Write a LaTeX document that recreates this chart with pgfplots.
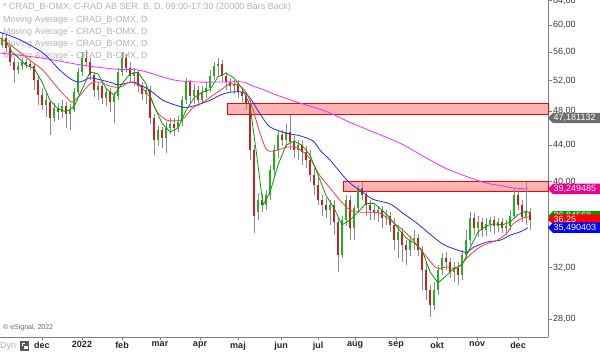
\documentclass[border=0pt]{standalone}
\usepackage{fontspec}
\setmainfont{Liberation Sans}
\usepackage{pgfplots}
\pgfplotsset{compat=1.18}
\usepackage{pgfplotstable}
\definecolor{cgreen}{RGB}{34,177,34}
\definecolor{cred}{RGB}{196,36,36}
\definecolor{wick}{RGB}{140,140,140}
\definecolor{magg}{RGB}{255,40,255}
\definecolor{mablue}{RGB}{40,40,255}
\definecolor{mared}{RGB}{255,60,60}
\definecolor{magreen}{RGB}{0,160,0}
\definecolor{zonefill}{RGB}{255,180,180}
\definecolor{legtext}{RGB}{180,180,180}
\definecolor{ticktext}{RGB}{60,60,60}
\definecolor{axgray}{RGB}{128,128,128}

\pgfplotstableread{
x o h l c
2 57.05 58.85 56.6 58.1
6 58.1 58.55 56.0 56.6
10 56.6 57.05 53.95 54.5
14 54.5 55.1 51.65 53.4
18 53.4 54.5 52.9 53.95
22 53.95 55.1 53.4 54.5
26 54.5 54.95 53.7 54.25
30 54.25 54.8 53.4 53.95
34 53.95 54.4 50.7 52.1
38 52.1 52.6 48.8 50.05
42 50.05 50.95 48.2 48.8
46 48.8 50.45 47.3 49.4
50 49.15 49.4 45.15 47.2
54 47.2 49.05 46.65 48.45
58 48.45 49.05 46.9 47.95
62 47.95 49.4 47.2 48.7
66 48.7 49.15 45.95 47.7
70 47.7 48.95 45.7 48.2
74 48.2 50.95 47.95 50.45
78 50.45 53.7 50.05 53.15
82 53.15 56.0 52.6 55.1
86 55.1 56.3 53.95 54.5
90 54.5 55.1 52.1 52.75
94 52.75 53.15 49.8 50.7
98 50.7 51.8 49.4 51.25
102 51.25 51.55 48.95 49.7
106 49.7 50.95 48.7 50.45
110 50.45 50.95 47.95 49.15
114 49.15 50.45 46.55 49.95
118 49.95 53.7 49.4 53.15
122 53.15 56.0 52.6 55.1
126 55.1 55.7 53.15 53.7
130 53.7 54.5 51.8 52.6
134 52.6 53.7 51.25 53.15
138 53.15 53.4 50.45 51.25
142 51.25 51.8 49.4 50.2
146 50.2 51.55 48.95 50.7
150 50.7 51.25 46.45 47.2
154 47.2 47.7 42.85 44.55
158 44.55 46.2 43.85 45.7
162 45.7 46.1 43.65 44.8
166 44.8 46.65 43.1 45.95
170 45.95 47.2 45.25 46.45
174 46.45 47.2 45.05 45.95
178 45.95 47.45 45.5 46.65
182 46.65 49.95 46.2 49.4
186 49.4 52.35 48.95 51.8
190 51.8 52.1 48.95 49.95
194 49.95 51.55 48.95 50.7
198 50.7 51.25 48.7 49.4
202 49.4 51.25 48.95 50.45
206 50.45 51.8 49.7 50.95
210 50.95 53.4 50.45 52.6
214 52.6 54.5 52.1 53.95
218 53.95 55.1 52.6 54.25
222 54.25 54.8 51.8 52.6
226 52.6 53.15 50.7 51.8
230 51.8 52.35 50.45 51.25
234 51.25 52.1 50.2 51.55
238 51.55 52.1 49.7 50.45
242 50.45 50.95 49.15 49.95
246 49.95 50.45 48.2 48.95
250 48.95 49.4 42.3 43.4
254 43.4 43.95 35.0 36.6
258 36.95 38.8 36.2 38.1
262 38.1 38.7 36.95 37.65
266 37.65 39.1 37.15 38.6
270 38.6 41.75 38.1 41.2
274 41.2 43.95 40.6 43.4
278 43.4 45.7 42.5 45.15
282 45.15 45.7 43.85 44.55
286 44.55 46.45 43.65 45.5
290 45.5 47.55 43.4 44.3
294 44.3 45.05 42.5 43.4
298 43.4 44.55 42.3 43.95
302 43.95 44.55 41.75 43.2
306 43.2 43.85 41.45 42.3
310 42.3 43.4 39.95 40.7
314 40.7 41.45 38.6 39.6
318 39.6 40.35 37.65 38.1
322 38.1 38.6 36.6 37.65
326 37.65 38.3 36.4 37.15
330 37.15 38.1 35.75 37.65
334 37.65 38.1 34.8 36.0
338 36.0 36.4 31.65 33.05
342 33.05 36.6 32.8 36.2
346 36.2 38.6 35.65 38.1
350 38.1 38.5 34.35 35.45
354 35.45 37.65 34.35 37.35
358 37.35 39.6 36.95 39.35
362 39.35 39.95 38.1 38.6
366 38.6 39.1 36.6 37.65
370 37.65 38.1 36.2 37.15
374 37.15 37.65 36.2 36.95
378 36.95 37.55 36.0 37.15
382 37.15 37.55 35.45 36.4
386 36.4 37.15 35.75 36.6
390 36.6 36.95 35.1 35.75
394 35.75 36.4 33.5 34.35
398 34.35 35.75 32.8 35.1
402 35.1 35.45 32.45 33.9
406 33.9 34.35 32.2 33.5
410 33.5 34.75 32.95 34.35
414 34.35 35.25 33.5 34.55
418 34.55 34.9 32.95 33.5
422 33.5 33.8 30.2 31.8
426 31.8 32.45 29.4 30.2
430 30.2 30.55 28.15 29.05
434 29.05 30.8 28.65 30.2
438 30.2 32.2 29.8 31.8
442 31.8 33.2 31.4 32.8
446 32.8 33.3 31.8 32.45
450 32.45 32.8 31.15 31.65
454 31.65 32.45 30.8 31.95
458 31.95 32.45 30.55 31.4
462 31.4 33.5 31.0 33.05
466 33.05 35.25 32.8 34.35
470 34.35 36.95 33.9 36.4
474 36.4 36.85 34.8 35.45
478 35.45 36.6 34.65 36.0
482 36.0 36.4 34.65 35.25
486 35.25 36.4 34.75 35.85
490 35.85 36.5 35.1 36.2
494 36.2 36.6 34.9 35.65
498 35.65 36.4 35.1 36.0
502 36.0 36.4 35.0 35.45
506 35.45 36.2 34.8 35.65
510 35.65 37.15 35.25 36.6
514 36.6 39.35 36.4 38.6
518 38.6 39.1 37.15 37.65
522 37.65 38.1 36.0 36.5
526 36.5 39.95 35.75 36.95
530 36.95 37.35 35.25 36.25
}\candles

\newcommand{\mytag}[3]{%
  \fill[#2] (#1) -- ([shift={(5pt,5.2pt)}]#1) -- ([shift={(53pt,5.2pt)}]#1) -- ([shift={(53pt,-5.2pt)}]#1) -- ([shift={(5pt,-5.2pt)}]#1) -- cycle;
  \node[anchor=west, text=white, inner sep=0pt, font=\fontsize{9}{10}\selectfont] at ([xshift=5.5pt]#1) {#3};}

\begin{document}
\begin{tikzpicture}
\path[use as bounding box] (0,0) rectangle (600pt,353pt);
% legend texts behind the chart
\begin{scope}[every node/.style={anchor=west, inner sep=0pt, text=legtext, font=\fontsize{9}{10}\selectfont}]
\node at (3pt,346pt) {* CRAD\_B-OMX, C-RAD AB SER. B, D, 09:00-17:30 (20000 Bars Back)};
\node at (3pt,332.5pt) {Moving Average - CRAD\_B-OMX, D};
\node at (3pt,320.5pt) {Moving Average - CRAD\_B-OMX, D};
\node at (3pt,308.5pt) {Moving Average - CRAD\_B-OMX, D};
\node at (3pt,296.5pt) {Moving Average - CRAD\_B-OMX, D};
\end{scope}
\begin{axis}[
  at={(0pt,16pt)}, anchor=south west,
  scale only axis, width=548pt, height=337pt,
  xmin=0, xmax=548,
  ymode=log, ymin=26.72, ymax=64.1,
  axis x line=bottom, axis y line=right,
  axis line style={-, axgray, line width=0.8pt},
  tick align=outside,
  major tick length=3.5pt,
  tick style={axgray, line width=0.6pt},
  minor tick num=0,
  xtick={42,82,122,160,200,238,281,318,355,396,437,477,518},
  xticklabels={dec,2022,feb,mar,apr,maj,jun,jul,aug,sep,okt,nov,dec},
  xticklabel style={font=\fontsize{9}{10}\selectfont\bfseries, text=black!85, inner sep=1pt},
  ytick={28,32,40,44,48,52,56,60,64},
  yticklabels={{28,00},{32,00},{40,00},{44,00},{48,00},{52,00},{56,00},{60,00},{64,00}},
  log ticks with fixed point,
  yticklabel style={font=\fontsize{9}{10}\selectfont, text=ticktext, inner sep=1.5pt},
  clip=false,
]
% resistance zones
\addplot[draw=red, fill=zonefill, line width=0.8pt] coordinates {(227,47.62) (548,47.62) (548,49.0) (227,49.0)} -- cycle;
\addplot[draw=red, fill=zonefill, line width=0.8pt] coordinates {(343,38.95) (548,38.95) (548,40.0) (343,40.0)} -- cycle;
% wicks
\addplot[draw=none, mark=none, error bars/.cd, y dir=plus, y explicit, error mark=none, error bar style={line width=0.8pt, draw=wick, solid}]
  table[x=x, y=l, y error plus expr=\thisrow{h}-\thisrow{l}] {\candles};
% green bodies
\addplot[draw=none, mark=none, restrict expr to domain={\thisrow{c}-\thisrow{o}}{0:100}, error bars/.cd, y dir=plus, y explicit, error mark=none, error bar style={line width=2.6pt, draw=cgreen, solid}]
  table[x=x, y=o, y error plus expr=\thisrow{c}-\thisrow{o}] {\candles};
% red bodies
\addplot[draw=none, mark=none, restrict expr to domain={\thisrow{o}-\thisrow{c}}{0.0001:100}, error bars/.cd, y dir=plus, y explicit, error mark=none, error bar style={line width=2.6pt, draw=cred, solid}]
  table[x=x, y=c, y error plus expr=\thisrow{o}-\thisrow{c}] {\candles};
% moving averages
\addplot[magg, line width=0.8pt, smooth] coordinates {
(0,55.85) (43,55.1) (83,54.1) (117,53.55) (140,53.4) (173,52.1) (197,51.8) (223,51.8) (243,51.8) (253,51.25) (260,50.95) (277,50.05) (300,49.05) (327,47.95) (350,46.65) (373,45.5) (400,44.2) (430,42.3) (450,41.2) (483,39.95) (500,39.6) (513,39.35) (528,39.25)};
\addplot[mablue, line width=0.8pt, smooth] coordinates {
(0,58.95) (20,57.8) (43,55.85) (60,53.4) (72,52.1) (80,51.8) (90,52.35) (100,52.1) (113,51.65) (118,51.4) (133,51.8) (140,51.4) (150,50.7) (163,49.4) (180,48.6) (185,48.45) (197,48.8) (210,49.4) (220,50.05) (230,50.45) (243,50.45) (250,49.7) (260,47.7) (270,46.1) (287,45.35) (300,45.05) (313,44.45) (320,43.4) (330,42.3) (340,41.0) (350,39.85) (363,38.9) (373,38.2) (390,37.75) (403,36.85) (417,35.9) (430,34.9) (443,34.0) (457,33.5) (467,33.3) (473,33.7) (487,34.2) (500,34.35) (510,34.8) (520,35.1) (528,35.49)};
\addplot[mared, line width=0.8pt, smooth] coordinates {
(0,58.1) (13,56.75) (30,54.8) (43,53.4) (57,51.1) (67,49.7) (72,49.15) (80,50.05) (90,51.55) (100,51.8) (110,51.25) (120,51.1) (130,51.8) (140,51.25) (150,49.8) (157,47.95) (167,46.9) (180,46.9) (185,47.3) (193,48.45) (203,49.15) (213,50.05) (223,50.95) (230,51.55) (240,51.25) (247,50.2) (253,48.2) (260,45.35) (267,43.4) (277,43.4) (287,43.75) (297,43.65) (307,42.85) (313,41.95) (320,40.6) (330,39.35) (340,38.1) (350,37.15) (360,36.95) (370,36.95) (380,36.85) (390,36.2) (403,35.25) (413,34.35) (427,32.85) (437,31.95) (447,32.05) (457,31.95) (467,32.8) (473,33.3) (483,33.9) (497,34.35) (507,35.0) (513,35.85) (523,36.4) (529,36.5)};
\addplot[magreen, line width=0.8pt] coordinates {
(6,57.5) (12,56.0) (18,55.25) (26,54.1) (34,53.7) (42,51.8) (50,49.4) (58,48.3) (66,47.95) (74,48.6) (82,50.8) (90,53.15) (98,52.9) (106,50.95) (114,50.05) (122,51.55) (130,52.9) (138,53.15) (146,51.55) (154,48.7) (162,46.55) (170,45.5) (178,45.95) (186,48.1) (194,49.7) (202,50.45) (210,50.8) (218,52.5) (226,53.0) (234,52.35) (242,50.95) (250,48.8) (258,41.75) (263,37.65) (270,38.9) (278,41.75) (286,43.95) (294,44.45) (302,43.95) (310,42.85) (318,40.7) (326,38.6) (334,37.35) (342,35.75) (350,36.2) (358,36.95) (366,37.8) (374,37.8) (382,37.15) (390,36.4) (398,35.45) (406,34.55) (414,34.1) (422,33.5) (430,31.65) (438,30.75) (446,31.3) (454,31.95) (462,32.2) (470,33.65) (478,35.1) (486,35.65) (494,35.85) (502,35.75) (510,36.0) (518,36.7) (526,37.05) (530,36.85)};
\coordinate (tg) at (axis cs:548,47.181132);
\coordinate (tm) at (axis cs:548,39.249485);
\coordinate (tgr) at (axis cs:548,36.56);
\coordinate (tr) at (axis cs:548,36.25);
\coordinate (tb) at (axis cs:548,35.490403);
\end{axis}
\mytag{tg}{black!57}{47,181132}
\mytag{tm}{magenta}{39,249485}
\mytag{tgr}{green!60!black}{36,84568}
\mytag{tr}{red}{36,25}
\mytag{tb}{blue}{35,490403}
% footer
\node[anchor=west, inner sep=0pt, text=black!60, font=\fontsize{7}{8}\selectfont] at (3pt,25pt) {© eSignal, 2022};
\node[anchor=west, inner sep=0pt, text=black!30, font=\fontsize{9}{10}\selectfont] at (0pt,7pt) {Dyn};
\fill[black!65] (20pt,2pt) rectangle (29pt,12pt);
\draw[white, line width=0.7pt] (22.5pt,7pt) -- (22.5pt,10pt) -- (25pt,10pt);
\fill[white] (24pt,3.5pt) rectangle (27.5pt,7pt);
\end{tikzpicture}
\end{document}
